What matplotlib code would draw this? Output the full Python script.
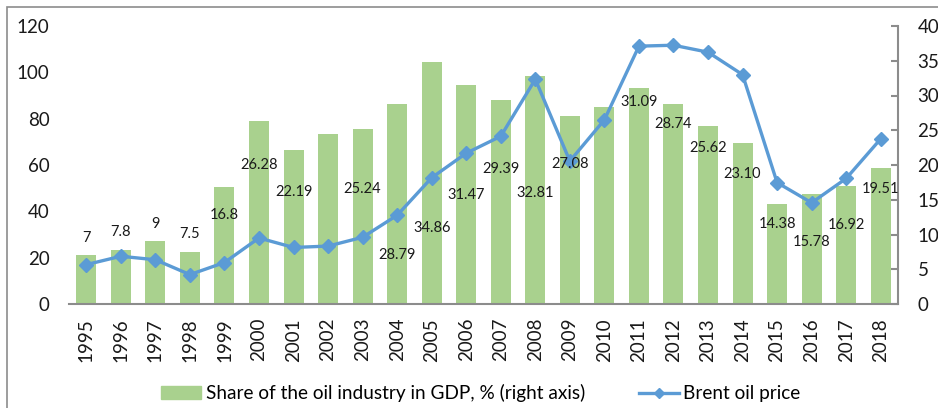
import numpy as np
import matplotlib
matplotlib.use("Agg")
import matplotlib.pyplot as plt
from matplotlib.patches import Rectangle

plt.rcParams['font.family'] = ['Lato', 'DejaVu Sans']

## data
years = [str(y) for y in range(1995, 2019)]
oil_share = [7, 7.8, 9, 7.5, 16.8, 26.28, 22.19, 24.5, 25.24, 28.79, 34.86, 31.47,
             29.39, 32.81, 27.08, 28.4, 31.09, 28.74, 25.62, 23.10, 14.38, 15.78, 16.92, 19.51]
share_labels = ['7', '7.8', '9', '7.5', '16.8', '26.28', '22.19', '', '25.24', '28.79', '34.86', '31.47',
                '29.39', '32.81', '27.08', '', '31.09', '28.74', '25.62', '23.10', '14.38', '15.78', '16.92', '19.51']
brent = [17.0, 20.6, 19.1, 12.7, 17.9, 28.5, 24.4, 25.0, 28.8, 38.3, 54.5, 65.1,
         72.4, 97.0, 61.7, 79.5, 111.3, 111.7, 108.7, 99.0, 52.4, 43.7, 54.2, 71.3]
# where each data label sits (left axis units)
label_y = [28.7, 30.9, 34.4, 30.1, 38.4, 60, 48.2, 0, 49.5, 21.1, 32.9, 47,
           58.3, 47.8, 60.3, 0, 87.3, 77.7, 67.5, 56.2, 34.5, 26.8, 34, 49.5]

GREEN = '#A9D18E'
BLUE = '#5B9BD5'
GREY = '#8C8C8C'

fig = plt.figure(figsize=(9.38, 4.08), dpi=100)
ax = fig.add_axes([69/938, 1-304/408, (898-69)/938, (304-26)/408])
ax2 = ax.twinx()

x = np.arange(len(years))

# bars on the right axis
ax2.bar(x, oil_share, width=0.58, color=GREEN, zorder=1)
ax2.set_ylim(0, 40)
ax2.set_yticks(range(0, 41, 5))

# line on the left axis, drawn above the bars
ax.set_zorder(ax2.get_zorder() + 1)
ax.patch.set_visible(False)
ax.plot(x, brent, color=BLUE, lw=2.4, marker='D', markersize=7, zorder=3)
ax.set_ylim(0, 120)
ax.set_yticks(range(0, 121, 20))
ax.set_xlim(-0.5, len(years) - 0.5)
ax.set_xticks(x)
ax.set_xticklabels(years, rotation=90)

for i, txt in enumerate(share_labels):
    if txt:
        ax.text(x[i], label_y[i], txt, ha='center', va='center', fontsize=10.5, color='#1a1a1a', zorder=4)

## styling the axes
for a in (ax, ax2):
    for s in ('top', 'left', 'right'):
        a.spines[s].set_visible(False)
ax.spines['bottom'].set_color(GREY)
ax.spines['bottom'].set_linewidth(1.5)
ax2.spines['bottom'].set_visible(False)
ax2.spines['right'].set_visible(True)
ax2.spines['right'].set_color(GREY)
ax2.spines['right'].set_linewidth(1.5)

ax.tick_params(axis='y', length=0, pad=14, labelsize=13.5, labelcolor='#1a1a1a')
ax.tick_params(axis='x', length=0, pad=10, labelsize=13.5, labelcolor='#1a1a1a')
ax2.tick_params(axis='y', direction='in', length=5, width=1.5, color=GREY, pad=14,
                labelsize=13.5, labelcolor='#1a1a1a')

## legend at the bottom
h_bar = Rectangle((0, 0), 1, 1, color=GREEN)
h_line, = ax.plot([], [], color=BLUE, lw=2.4, marker='D', markersize=5)
fig.legend([h_bar, h_line], ['Share of the oil industry in GDP, % (right axis)', 'Brent oil price'],
           loc='center', bbox_to_anchor=(481/938, 1-393/408), ncol=2, frameon=False,
           fontsize=13.7, handlelength=2.1, handleheight=0.65, handletextpad=0.25,
           columnspacing=2.8, borderpad=0)

## grey frame round the chart
fig.patches.append(Rectangle((7/938, -0.05), 1.1, 1.05 - 7/408, transform=fig.transFigure,
                             fill=False, edgecolor=GREY, lw=1.2))

fig.savefig('out.png', dpi=100)
